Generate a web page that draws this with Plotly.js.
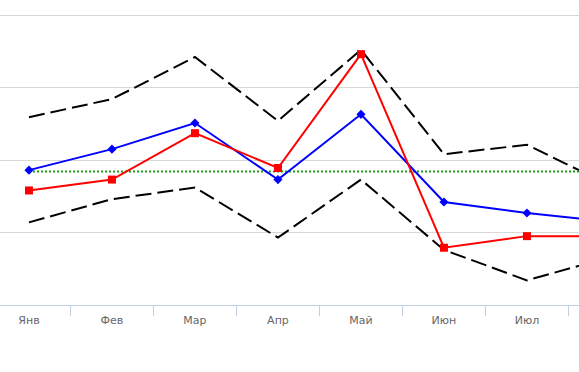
<!DOCTYPE html>
<html>
<head>
<meta charset="utf-8">
<script src="https://cdn.plot.ly/plotly-3.0.1.min.js"></script>
<style>html,body{margin:0;padding:0;background:#fff;}#chart{width:579px;height:372px;}</style>
</head>
<body>
<div id="chart"></div>
<script>
const months = ['Янв','Фев','Мар','Апр','Май','Июн','Июл','Авг'];
const blueSeries = [18.6, 21.5, 25.1, 17.3, 26.3, 14.2, 12.7, 11.5];
const redSeries = [15.8, 17.3, 23.7, 18.9, 34.6, 7.9, 9.5, 9.5];
const upperBound = [25.9, 28.4, 34.2, 25.4, 35.2, 20.8, 22.1, 16.5];
const lowerBound = [11.4, 14.6, 16.2, 9.3, 17.3, 7.6, 3.4, 6.6];
const averageLine = [18.4, 18.4, 18.4, 18.4, 18.4, 18.4, 18.4, 18.4];

const traces = [
  {x: months, y: upperBound, type: 'scatter', mode: 'lines', line: {color: '#000', width: 2, dash: '16px,6px'}},
  {x: months, y: lowerBound, type: 'scatter', mode: 'lines', line: {color: '#000', width: 2, dash: '16px,6px'}},
  {x: months, y: averageLine, type: 'scatter', mode: 'lines', line: {color: '#1a9a1a', width: 2, dash: '2px,2px'}},
  {x: months, y: blueSeries, type: 'scatter', mode: 'lines+markers', line: {color: '#0000ff', width: 2}, marker: {symbol: 'diamond', size: 7, color: '#0000ff'}},
  {x: months, y: redSeries, type: 'scatter', mode: 'lines+markers', line: {color: '#ff0000', width: 2}, marker: {symbol: 'square', size: 8, color: '#ff0000'}}
];

const layout = {
  width: 579, height: 372,
  margin: {l: 0, r: 0, t: 10, b: 67},
  showlegend: false,
  paper_bgcolor: '#fff', plot_bgcolor: '#fff',
  xaxis: {
    type: 'category', categoryorder: 'array', categoryarray: months,
    range: [-0.349, 6.627],
    showgrid: false, zeroline: false,
    showline: true, linecolor: '#c0d0e0', linewidth: 1,
    ticks: 'outside', tickson: 'boundaries', ticklen: 10, tickcolor: '#c0d0e0', tickwidth: 1,
    ticklabelstandoff: 5,
    tickfont: {family: 'DejaVu Sans', size: 11, color: '#666'}
  },
  yaxis: {
    range: [0, 40.69], dtick: 10, tick0: 0,
    showgrid: true, gridcolor: '#d8d8d8', gridwidth: 1,
    zeroline: false, showline: false, showticklabels: false, ticks: ''
  }
};
Plotly.newPlot('chart', traces, layout, {displayModeBar: false, staticPlot: true});
</script>
</body>
</html>
